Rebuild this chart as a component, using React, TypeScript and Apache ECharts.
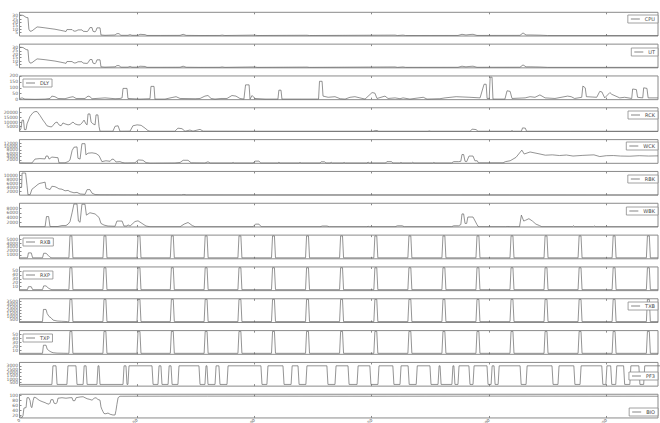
import { useEffect, useRef } from "react";
import * as echarts from "echarts";

// ---------- labels ----------
const names = ["CPU", "UT", "DLY", "RCK", "WCK", "RBK", "WBK", "RXB", "RXP", "TXB", "TXP", "PF3", "BIO"];
const xTicks = [0, 50, 100, 150, 200, 250];
const X_MAX = 272;

const yMin = [0, 0, 0, 0, 0, 0, 0, 0, 0, 0, 0, 0, 10];
const yMax = [35, 35, 200, 25000, 14000, 12000, 10000, 6000, 60, 4000, 60, 3500, 106];
const yTicks = [
  [0, 5, 10, 15, 20, 25, 30, 35],
  [0, 5, 10, 15, 20, 25, 30, 35],
  [0, 50, 100, 150, 200],
  [0, 5000, 10000, 15000, 20000, 25000],
  [0, 2000, 4000, 6000, 8000, 10000, 12000, 14000],
  [0, 2000, 4000, 6000, 8000, 10000, 12000],
  [0, 2000, 4000, 6000, 8000, 10000],
  [0, 1000, 2000, 3000, 4000, 5000, 6000],
  [0, 10, 20, 30, 40, 50, 60],
  [0, 500, 1000, 1500, 2000, 2500, 3000, 3500, 4000],
  [0, 10, 20, 30, 40, 50, 60],
  [0, 500, 1000, 1500, 2000, 2500, 3000, 3500],
  [20, 40, 60, 80, 100],
];

// ---------- data ----------
const cpu = [[0.2,31],[1.5,30.5],[2.8,27.5],[3.6,27],[4.0,10],[4.5,7],[5.3,7.5],[6.6,11],[7.5,13.4],[8.7,13],[10.9,12],[13.0,11],[15.1,10],[17.3,8.5],[19.4,7],[19.8,6.5],[20.2,9.5],[22.4,9.5],[22.8,8],[23.6,7],[24.5,8],[24.9,9],[26.6,9],[27.1,7],[28.8,6.5],[29.2,7.5],[30.0,12.4],[30.9,12.4],[31.3,7],[32.2,6],[32.6,8],[33.0,12],[34.3,12],[34.7,1.5],[36.4,1],[40.7,1.5],[41.5,3.5],[42.4,3.5],[43.2,1],[46.2,1],[47.1,2],[47.9,1],[50.5,1],[51.3,2.5],[53.5,2],[54.3,0.8],[59.9,0.8],[68.4,0.9],[69.7,2.5],[71.0,0.9],[76.9,0.7],[85.4,0.8],[86.3,1.3],[87.5,0.7],[100.3,1.3],[101.2,0.7],[122.5,1.1],[123.5,0.7],[160.0,1.3],[161,0.7],[163.4,1.3],[164.5,0.7],[186.8,0.8],[188.5,2.5],[190.2,1.5],[191.9,2.2],[193.2,2.5],[194.9,0.8],[213.2,0.9],[214.5,4.5],[215.8,1.5],[217.5,1.5],[221.7,1.2],[225,0.7],[272,0.7]];
const ut = [[0.2,30.5],[1.5,30],[2.8,27],[3.6,26.5],[4.0,10],[4.5,7],[5.3,7.5],[6.6,11],[7.5,13.2],[8.7,12.8],[10.9,12],[13.0,11],[15.1,10],[17.3,8.5],[19.4,7],[19.8,6.5],[20.2,9.3],[22.4,9.3],[22.8,8],[23.6,7],[24.5,8],[24.9,9],[26.6,9],[27.1,7],[28.8,6.5],[29.2,7.5],[30.0,12.2],[30.9,12.2],[31.3,7],[32.2,6],[32.6,8],[33.0,11.8],[34.3,11.8],[34.7,1.5],[36.4,1],[40.7,1.5],[41.5,3.3],[42.4,3.3],[43.2,1],[46.2,1],[47.1,2],[47.9,1],[50.5,1],[51.3,2.4],[53.5,2],[54.3,0.8],[59.9,0.8],[68.4,0.9],[69.7,2.4],[71.0,0.9],[76.9,0.7],[85.4,0.8],[86.3,1.3],[87.5,0.7],[100.3,1.3],[101.2,0.7],[122.5,1.1],[123.5,0.7],[160.0,1.3],[161,0.7],[163.4,1.3],[164.5,0.7],[186.8,0.8],[188.5,2.4],[190.2,1.5],[191.9,2.1],[193.2,2.4],[194.9,0.8],[213.2,0.9],[214.5,4.3],[215.8,1.5],[217.5,1.5],[221.7,1.2],[225,0.7],[272,0.7]];
const dly = [[0.2,10],[1.1,15],[2.3,5],[6.6,3],[10.9,5],[13.0,10],[13.8,30],[15.1,25],[16.4,10],[19.4,8],[21.5,20],[22.8,25],[24.1,10],[27.9,10],[29.2,30],[30.0,25],[30.9,8],[34.3,12],[36.4,15],[40.7,8],[42.8,10],[43.7,15],[44.1,95],[45.8,95],[46.2,10],[51.3,5],[55.6,8],[56.0,112],[57.3,112],[57.7,5],[62,5],[65.0,18],[66.7,25],[68.4,10],[74.8,8],[76.9,10],[79.0,30],[80.3,35],[81.6,10],[83.3,5],[85.8,10],[88.4,10],[90.5,35],[92.2,30],[93.9,10],[95.6,5],[96.3,125],[97.8,125],[98.2,5],[99.1,35],[100.3,10],[104.6,5],[110.1,5],[110.5,80],[111.4,80],[111.8,5],[119.5,5],[127.4,5],[127.8,155],[128.9,155],[129.3,30],[131.5,20],[134.4,25],[136.6,8],[138.7,5],[140.8,20],[142.9,25],[145.0,15],[147.2,5],[150.2,60],[151.4,55],[152.3,10],[155.7,30],[157.0,10],[160.0,15],[162.1,8],[163.4,15],[166.3,5],[172,20],[173.6,5],[179.1,8],[181.3,15],[186,25],[191.9,20],[196.2,15],[197.9,130],[198.8,130],[199.2,10],[200.1,10],[200.5,190],[201.3,190],[201.7,5],[206.8,5],[207.7,75],[209.0,70],[209.8,10],[215.4,15],[217.5,25],[219.6,20],[221.7,40],[223.9,15],[228.1,10],[233.5,30],[235,25],[236.5,10],[239.5,20],[240.0,115],[241.0,100],[241.5,25],[245.9,20],[247.2,70],[248.1,65],[249.3,15],[251.5,60],[252.3,45],[255.7,15],[257.8,20],[260.8,10],[261.2,90],[262.8,85],[263.3,20],[265.5,15],[265.9,100],[267.3,95],[267.8,15],[272,15]];
const rck = [[0.2,1000],[0.6,3000],[1.1,12000],[1.7,12000],[2.1,2000],[2.8,2000],[3.2,8000],[4.5,16000],[5.8,20000],[6.6,21000],[7.5,21000],[8.7,17000],[10.0,12000],[10.9,9000],[11.7,6000],[13.0,5000],[13.8,5000],[15.1,9000],[16.0,10000],[16.8,7000],[17.7,6000],[18.5,9000],[19.4,8000],[20.7,7000],[21.5,7500],[22.8,10000],[23.6,8000],[24.9,7000],[25.8,7000],[26.6,9000],[27.5,12000],[28.3,8000],[28.8,7000],[29.2,18500],[30.0,18500],[30.5,10000],[31.3,8000],[32.2,7000],[32.6,17500],[33.4,17500],[33.9,5000],[34.3,300],[39.8,300],[40.7,5500],[42.0,6000],[42.8,300],[47.1,400],[48.3,6000],[50.1,7000],[51.8,6500],[53.5,3500],[54.7,1000],[55.6,300],[66.2,300],[67.5,3500],[69.2,3000],[70.5,300],[72.6,1500],[73.9,400],[76.9,2200],[78.2,400],[100,300],[150.5,300],[151.5,1000],[152.5,1000],[153,300],[174,300],[174.6,700],[175.2,300],[192,300],[192.8,2500],[194.5,2000],[195.3,300],[209.3,300],[209.8,1000],[210.3,300],[213.8,300],[214.3,3800],[215.5,3500],[216,300],[272,250]];
const wck = [[0.2,300],[2.3,200],[5.3,200],[6.6,2500],[8.7,2800],[10.9,2600],[11.3,4300],[12.1,4300],[12.6,2500],[13.8,3700],[15.1,3500],[16.4,3300],[16.8,300],[19.4,300],[20.7,1000],[21.5,2000],[22.4,7500],[23.2,9500],[24.5,9700],[24.9,3000],[25.8,2500],[26.6,11600],[27.9,11600],[28.3,5000],[29.2,6000],[30.9,6200],[32.6,5800],[33.9,4500],[35.1,1000],[36.8,1500],[38.6,1200],[39.4,2500],[40.2,2300],[41.1,800],[42.8,1000],[43.7,500],[44.9,200],[49.2,300],[50.5,2000],[52.6,1800],[53.9,400],[55.6,100],[66.2,200],[68.4,500],[69.7,1800],[71.8,1800],[73.1,300],[79.0,200],[80.3,900],[81.2,200],[90.5,200],[91,500],[91.5,200],[99.5,200],[100.3,1300],[102,1300],[102.8,200],[110,200],[110.5,600],[111,200],[119,200],[119.5,500],[120,200],[128,200],[128.5,900],[130,900],[130.5,200],[132.3,200],[132.8,600],[133.3,200],[137.8,200],[138.3,500],[138.8,200],[148,200],[148.5,700],[149,200],[156,200],[156.5,1000],[158.5,1000],[159,200],[162,200],[162.5,500],[163,200],[167,200],[167.5,600],[168,200],[176,200],[176.5,500],[177,200],[184,200],[185,1000],[187,1000],[188,1200],[188.5,5200],[189.2,5200],[189.8,1200],[190.5,1000],[191.5,4300],[193.2,4300],[194,1500],[195,1500],[195.5,300],[206,300],[207,1000],[209,1500],[211.5,3500],[214,7800],[215,5500],[217.5,6700],[221.7,5500],[224,4800],[227,5000],[230,4600],[233,4900],[235.8,4300],[240,4700],[244.7,5000],[247.2,4000],[250,4500],[253,4600],[256,4300],[260,4200],[264,4500],[268,4300],[272,4400]];
const rbk = [[0.2,4000],[0.9,4000],[1.1,11200],[2.6,11200],[3.2,5000],[3.6,200],[4.5,200],[5.3,3000],[6.6,4200],[7.9,5500],[8.7,6000],[9.6,6200],[10.9,6600],[11.3,3500],[12.1,3200],[13.0,2800],[13.8,4500],[15.1,4300],[16.0,3800],[16.8,3200],[18.1,3000],[19.4,2200],[20.7,2400],[21.5,1800],[23.2,1200],[24.5,1400],[25.8,600],[27.9,400],[28.8,2800],[30.0,2800],[30.9,1000],[32.2,300],[34.3,200],[47.1,150],[69,150],[70,350],[71,150],[272,100]];
const wbk = [[0.2,100],[10.9,100],[11.5,4400],[12.4,4400],[13.0,200],[16.4,200],[18.1,600],[19.8,600],[20.7,1200],[21.5,2200],[22.4,6000],[23.2,9700],[24.5,9700],[25.1,2500],[25.8,2000],[26.6,9600],[27.9,9600],[28.5,5000],[30.0,6000],[32.2,5500],[33.9,4000],[34.7,1500],[36.0,800],[37.7,400],[40.7,300],[41.5,2500],[43.7,2500],[44.5,400],[45.8,400],[46.2,900],[47.1,400],[49.2,2300],[50.5,2600],[52.2,1500],[53.9,400],[55.6,100],[68.4,100],[70.1,1200],[71.8,1900],[73.6,600],[74.8,100],[99.5,100],[100.5,1200],[102,1200],[103,100],[128,100],[129,400],[131,400],[132,100],[148,100],[148.5,300],[149,100],[160,100],[161,500],[163,500],[164,100],[184,100],[185,500],[187,500],[188,1000],[188.5,5500],[189.2,5500],[189.8,1500],[190.5,1500],[191,4200],[193.2,4200],[194.9,1000],[195.3,300],[196,100],[207,100],[208,200],[209,100],[213,100],[213.8,5000],[214.8,2500],[215.5,2800],[217,3500],[218.5,2500],[220,1200],[221.5,600],[222.5,100],[235.5,100],[236,500],[236.5,100],[244.5,100],[245,400],[245.5,100],[272,100]];

// network series: early activity, then periodic spikes
const rxbStart = [[0.2,250],[3.4,250],[3.8,1500],[5.0,1500],[5.6,250],[9.8,250],[10.3,1400],[11.3,1400],[12.2,900],[13.0,400],[13.8,250],[20.5,250]];
const rxpStart = [[0.2,2.5],[3.4,2.5],[3.8,10],[5.0,10],[5.6,2.5],[9.8,2.5],[10.3,12],[11.3,12],[12.2,7],[13.0,4],[13.8,2.5],[20.5,2.5]];
const txbStart = [[0.2,150],[9.8,150],[10.2,2200],[11.3,2200],[11.8,1500],[12.6,1000],[13.4,800],[14.3,400],[16,250],[18,200],[20.5,150]];
const txpStart = [[0.2,2.5],[9.8,2.5],[10.2,23],[11.3,23],[11.8,13],[12.6,9],[13.4,6],[14.3,4],[16,3],[20.5,2.5]];
const spikeCenters = [21.9, 36.4, 50.9, 65.1, 79.5, 93.9, 108.2, 122.7, 137.2, 151.8, 166.3, 180.8, 195.3, 209.8, 224.3, 238.8, 253.3, 267.9];
const spikeTops = { rxb: 5800, rxp: 58, txb: 3900, txp: 58 };
const spikeBases = { rxb: 250, rxp: 2.5, txb: 150, txp: 2.5 };

// PF3: intervals where the value sits at its high level
const pf3Levels = { low: 250, high: 3000 };
const pf3High = [[13.8,16.0],[20.2,24.5],[27.1,28.8],[33.0,34.3],[44.1,45.8],[46.2,56.9],[59.0,60.7],[63.3,65.0],[67.5,76.9],[79.0,80.3],[83.3,85.4],[88.4,103.3],[105.4,112.7],[115.7,119.1],[122.0,131.4],[134.4,140.4],[143.8,149.7],[152.7,159.5],[162.1,166.0],[169.0,175.3],[178.3,179.6],[184.2,185.5],[186.8,191.9],[193.2,199.6],[200.9,202.6],[203.9,213.7],[215.8,227.3],[229.4,236.6],[238.8,248.5],[249.8,252.3],[254.0,257.8],[260.0,264.3],[265.9,274]];

const bio = [[0.2,15],[1.1,12],[1.5,20],[1.9,50],[2.8,52],[3.2,92],[4.0,92],[4.5,80],[4.9,55],[5.3,52],[5.8,80],[6.2,94],[7.0,92],[7.9,85],[8.7,80],[10.0,75],[10.9,72],[11.7,68],[12.6,66],[13.0,70],[13.4,84],[14.3,84],[14.7,70],[15.5,68],[16.0,72],[16.4,90],[18.1,92],[19.8,90],[21.5,92],[22.4,92],[22.8,80],[23.6,80],[24.1,92],[25.8,95],[27.1,96],[27.9,92],[28.8,88],[30.0,85],[30.9,82],[31.8,90],[32.6,92],[33.4,85],[34.3,82],[34.7,55],[35.1,45],[35.6,35],[36.0,28],[36.8,27],[37.7,30],[38.6,25],[39.8,22],[40.7,22],[41.1,40],[41.5,65],[42.0,92],[42.8,98],[80,98.5],[150,98],[200,98.5],[272,98]];

// ---------- layout ----------
const GRID_LEFT = 19.5;
const GRID_W = 638.5;
const GRID_TOP0 = 12.3;
const GRID_STEP = 31.83;
const GRID_H = 23.7;
const LINE = "#666";
const FRAME = "#8a8a8a";
const legendSide = ["right","right","left","right","right","right","right","left","left","right","left","right","right"];
const legendTop = [15, 48, 79, 111, 142, 175, 207, 238, 271, 302, 334, 372, 408];

function withSpikes(start: number[][], top: number, base: number) {
  const pts = start.map((p) => [p[0], p[1]]);
  for (const c of spikeCenters) {
    pts.push([c - 0.85, base], [c - 0.4, top], [c + 0.4, top], [c + 0.85, base]);
  }
  pts.push([X_MAX, base]);
  return pts;
}

function squareWave(highs: number[][], low: number, high: number) {
  const pts: number[][] = [[0, low]];
  for (const [a, b] of highs) {
    pts.push([a, low], [a + 0.45, high], [b - 0.45, high], [b, low]);
  }
  pts.push([X_MAX + 2, low]);
  return pts;
}

const plain = (v: number) => String(v);

export default function App() {
  const ref = useRef<HTMLDivElement>(null);
  useEffect(() => {
    const chart = echarts.init(ref.current!, null, { renderer: "svg" });
    const seriesData = [
      cpu, ut, dly, rck, wck, rbk, wbk,
      withSpikes(rxbStart, spikeTops.rxb, spikeBases.rxb),
      withSpikes(rxpStart, spikeTops.rxp, spikeBases.rxp),
      withSpikes(txbStart, spikeTops.txb, spikeBases.txb),
      withSpikes(txpStart, spikeTops.txp, spikeBases.txp),
      squareWave(pf3High, pf3Levels.low, pf3Levels.high),
      bio,
    ];
    const n = names.length;
    const grid: any[] = [];
    const xAxis: any[] = [];
    const yAxis: any[] = [];
    const series: any[] = [];
    const legend: any[] = [];
    for (let i = 0; i < n; i++) {
      grid.push({
        left: GRID_LEFT, width: GRID_W, top: GRID_TOP0 + GRID_STEP * i, height: GRID_H,
        show: true, borderColor: FRAME, borderWidth: 1, backgroundColor: "transparent",
        containLabel: false, outerBoundsMode: "none",
      });
    }
    for (let i = 0; i < n; i++) {
      xAxis.push({
        gridIndex: i, type: "value", min: 0, max: X_MAX, position: "bottom",
        axisLine: { show: false },
        axisTick: { show: true, inside: true, length: 2, customValues: xTicks, lineStyle: { color: FRAME } },
        axisLabel: {
          show: i === n - 1, customValues: xTicks, rotate: 45, fontSize: 4, margin: 1.5,
          color: "#666", fontFamily: "DejaVu Sans", formatter: plain,
        },
        splitLine: { show: false },
      });
    }
    for (let i = 0; i < n; i++) {
      xAxis.push({
        gridIndex: i, type: "value", min: 0, max: X_MAX, position: "top",
        axisLine: { show: false },
        axisTick: { show: true, inside: true, length: 2, customValues: xTicks, lineStyle: { color: FRAME } },
        axisLabel: { show: false },
        splitLine: { show: false },
      });
    }
    for (let i = 0; i < n; i++) {
      yAxis.push({
        gridIndex: i, type: "value", min: yMin[i], max: yMax[i],
        axisLine: { show: false },
        axisTick: { show: true, inside: true, length: 2, customValues: yTicks[i], lineStyle: { color: FRAME } },
        axisLabel: {
          show: true, customValues: yTicks[i], fontSize: 4.5, margin: 1.5,
          color: "#666", fontFamily: "DejaVu Sans", formatter: plain,
        },
        splitLine: { show: false },
      });
      series.push({
        name: names[i], type: "line", xAxisIndex: i, yAxisIndex: i,
        data: seriesData[i], showSymbol: false, symbol: "none",
        lineStyle: { width: 0.7, color: LINE }, itemStyle: { color: LINE },
        silent: true, clip: true,
      });
      const lg: any = {
        data: [names[i]], top: legendTop[i], orient: "horizontal",
        icon: "rect", itemWidth: 9, itemHeight: 0.8, padding: [1.5, 3],
        borderColor: FRAME, borderWidth: 0.8, backgroundColor: "#fff",
        selectedMode: false,
        textStyle: { fontSize: 5, color: "#444", fontFamily: "DejaVu Sans" },
      };
      if (legendSide[i] === "right") lg.right = 2; else lg.left = 23;
      legend.push(lg);
    }
    chart.setOption({
      animation: false,
      textStyle: { fontFamily: "DejaVu Sans" },
      grid, xAxis, yAxis, series, legend,
    });
    return () => chart.dispose();
  }, []);
  return (
    <div
      ref={ref}
      style={{ position: "absolute", left: 0, top: 0, width: 660, height: 423, background: "#fff" }}
    />
  );
}
